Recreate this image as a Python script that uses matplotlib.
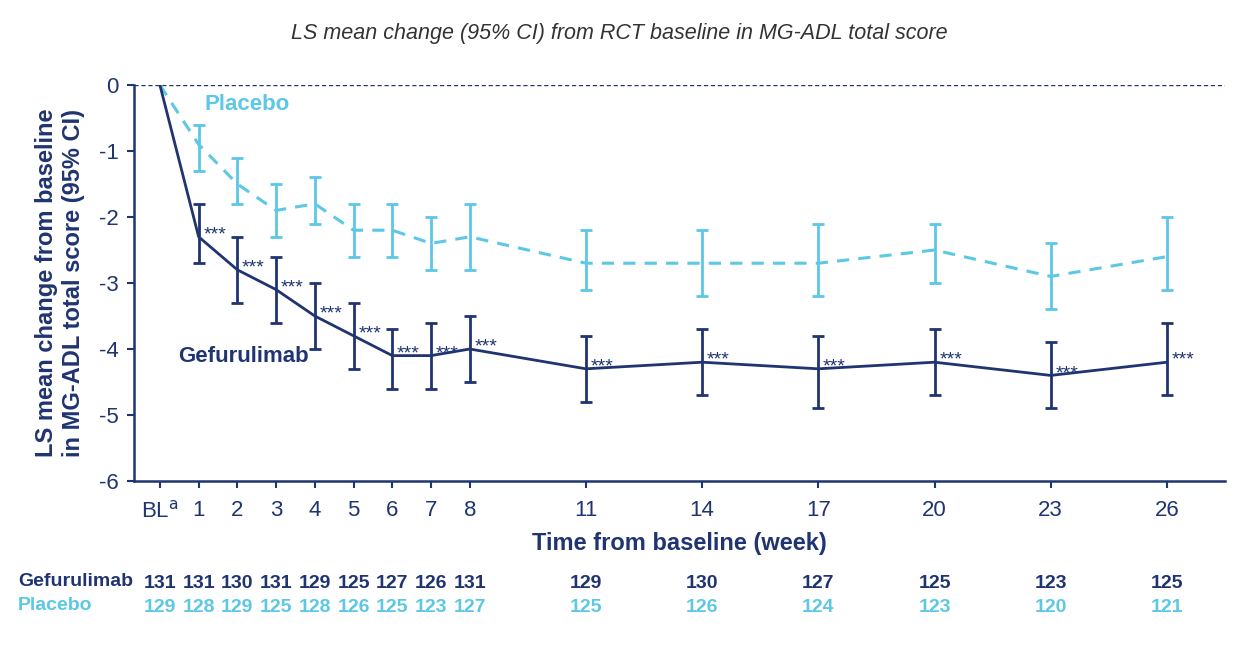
import matplotlib.pyplot as plt
import numpy as np

plt.rcParams['font.family'] = ['Liberation Sans', 'DejaVu Sans']
plt.rcParams['axes.unicode_minus'] = False

navy = '#1f3470'
light = '#5cc8e6'

weeks = [0, 1, 2, 3, 4, 5, 6, 7, 8, 11, 14, 17, 20, 23, 26]
tick_labels = ['BL$^{\\mathrm{a}}$', '1', '2', '3', '4', '5', '6', '7', '8',
               '11', '14', '17', '20', '23', '26']

gef_mean = [0, -2.3, -2.8, -3.1, -3.5, -3.8, -4.1, -4.1, -4.0, -4.3, -4.2, -4.3, -4.2, -4.4, -4.2]
gef_hi = [0, -1.8, -2.3, -2.6, -3.0, -3.3, -3.7, -3.6, -3.5, -3.8, -3.7, -3.8, -3.7, -3.9, -3.6]
gef_lo = [0, -2.7, -3.3, -3.6, -4.0, -4.3, -4.6, -4.6, -4.5, -4.8, -4.7, -4.9, -4.7, -4.9, -4.7]

pbo_mean = [0, -0.9, -1.5, -1.9, -1.8, -2.2, -2.2, -2.4, -2.3, -2.7, -2.7, -2.7, -2.5, -2.9, -2.6]
pbo_hi = [0, -0.6, -1.1, -1.5, -1.4, -1.8, -1.8, -2.0, -1.8, -2.2, -2.2, -2.1, -2.1, -2.4, -2.0]
pbo_lo = [0, -1.3, -1.8, -2.3, -2.1, -2.6, -2.6, -2.8, -2.8, -3.1, -3.2, -3.2, -3.0, -3.4, -3.1]

n_gef = [131, 131, 130, 131, 129, 125, 127, 126, 131, 129, 130, 127, 125, 123, 125]
n_pbo = [129, 128, 129, 125, 128, 126, 125, 123, 127, 125, 126, 124, 123, 120, 121]

x = np.array(weeks)
gm, gh, gl = np.array(gef_mean), np.array(gef_hi), np.array(gef_lo)
pm, ph, pl = np.array(pbo_mean), np.array(pbo_hi), np.array(pbo_lo)

fig = plt.figure(figsize=(12.38, 6.48), dpi=100)
ax = fig.add_axes([0.1082, 0.2577, 0.8813, 0.6111])

ax.axhline(0, color=navy, lw=1, ls=(0, (3, 2)), zorder=1)

# placebo
ax.plot(x, pm, color=light, lw=2.2, ls=(0, (4, 3)), zorder=2)
ax.errorbar(x[1:], pm[1:], yerr=[pm[1:] - pl[1:], ph[1:] - pm[1:]], fmt='none',
            ecolor=light, elinewidth=2, capsize=4, capthick=2, zorder=2)

# gefurulimab
ax.plot(x, gm, color=navy, lw=2, zorder=3)
ax.errorbar(x[1:], gm[1:], yerr=[gm[1:] - gl[1:], gh[1:] - gm[1:]], fmt='none',
            ecolor=navy, elinewidth=2, capsize=4, capthick=2, zorder=3)

for xi, yi in zip(x[1:], gm[1:]):
    ax.text(xi + 0.12, yi - 0.04, '***', color=navy, fontsize=14, ha='left', va='baseline')

ax.text(1.16, -0.29, 'Placebo', color=light, fontsize=16, fontweight='bold', va='center')
ax.text(0.47, -4.12, 'Gefurulimab', color=navy, fontsize=16, fontweight='bold', va='center')

ax.set_xlim(-0.67, 27.5)
ax.set_ylim(-6, 0)
ax.set_yticks(np.arange(-6, 1, 1))
ax.set_xticks(x)
ax.set_xticklabels(tick_labels)
ax.tick_params(colors=navy, labelcolor=navy, labelsize=16, width=1.5, length=5, direction='out')
ax.tick_params(axis='x', pad=9)
ax.tick_params(axis='y', pad=6)
for s in ['top', 'right']:
    ax.spines[s].set_visible(False)
for s in ['left', 'bottom']:
    ax.spines[s].set_color(navy)
    ax.spines[s].set_linewidth(1.8)

ax.set_xlabel('Time from baseline (week)', color=navy, fontsize=17, fontweight='bold', labelpad=7)
ax.set_ylabel('LS mean change from baseline\nin MG-ADL total score (95% CI)', color=navy,
              fontsize=17, fontweight='bold', labelpad=10, linespacing=1.2)

fig.text(0.5, 0.948, 'LS mean change (95% CI) from RCT baseline in MG-ADL total score',
         ha='center', va='center', fontsize=15.5, style='italic', color='#333333')

# number at risk
trans = ax.get_xaxis_transform()
for xi, ng, npb in zip(x, n_gef, n_pbo):
    ax.text(xi, -0.26, str(ng), transform=trans, ha='center', va='center',
            fontsize=14, fontweight='bold', color=navy, clip_on=False)
    ax.text(xi, -0.32, str(npb), transform=trans, ha='center', va='center',
            fontsize=14, fontweight='bold', color=light, clip_on=False)
fig.text(18 / 1238, 1 - 582 / 648, 'Gefurulimab', ha='left', va='center',
         fontsize=14, fontweight='bold', color=navy)
fig.text(18 / 1238, 1 - 606 / 648, 'Placebo', ha='left', va='center',
         fontsize=14, fontweight='bold', color=light)

fig.savefig('out.png', dpi=100, facecolor='white')
